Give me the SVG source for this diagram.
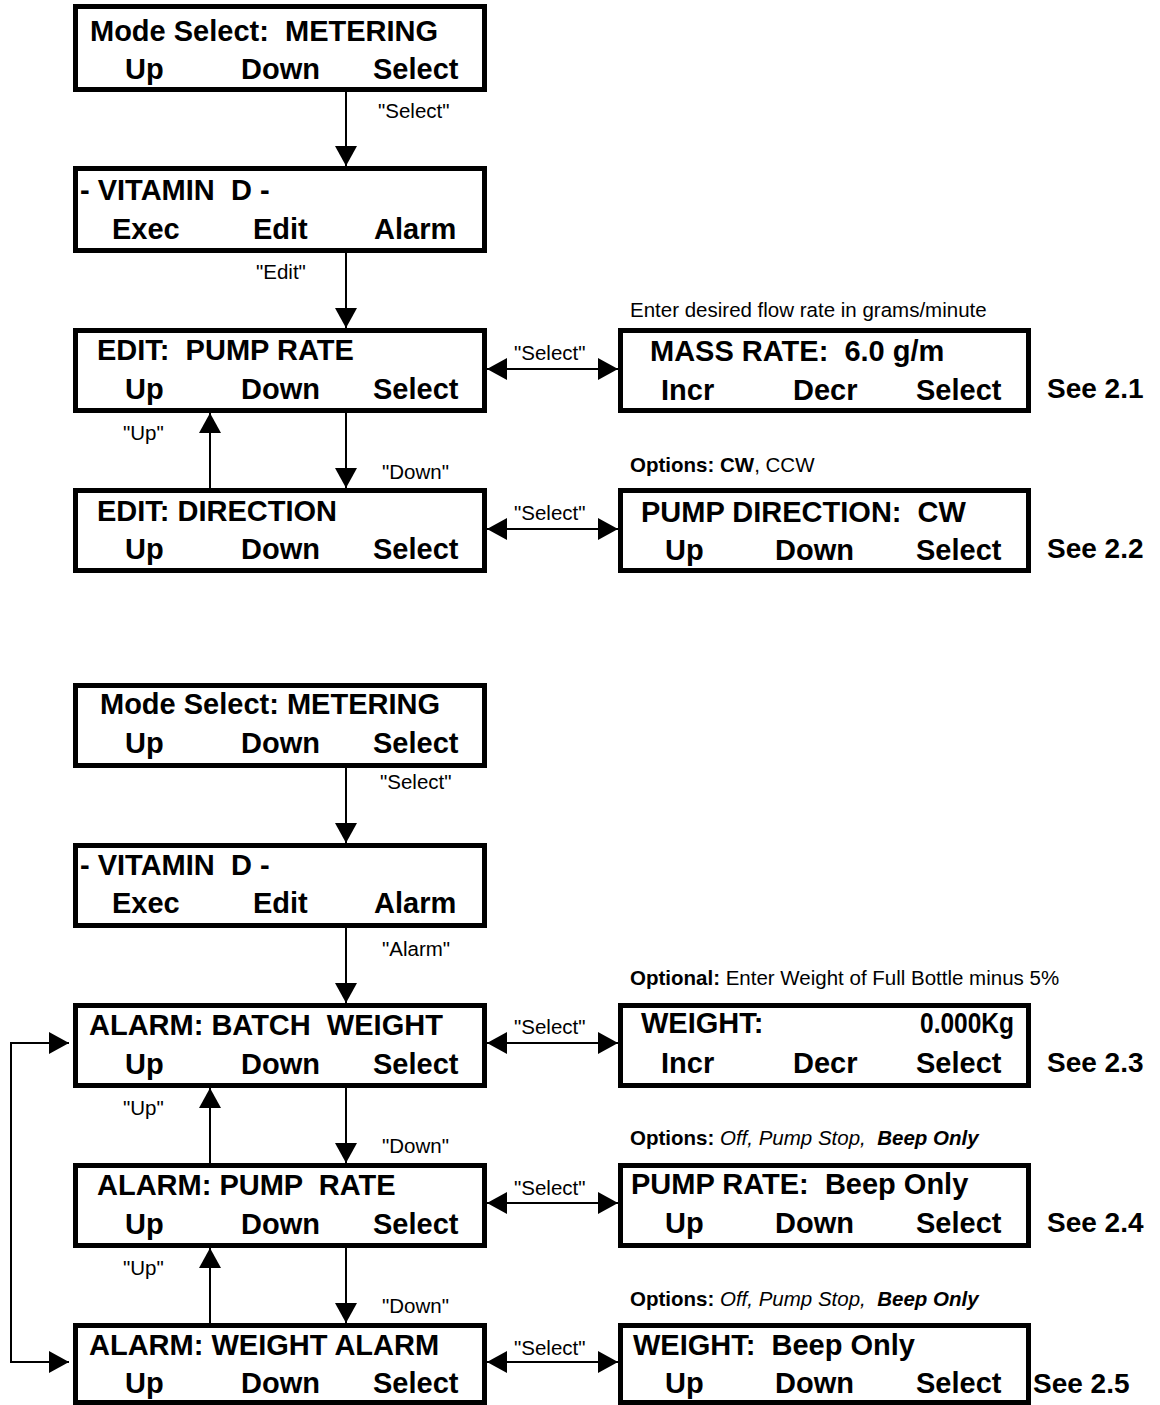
<svg xmlns="http://www.w3.org/2000/svg" width="1160" height="1405" viewBox="0 0 1160 1405" xml:space="preserve">
<style>
text { font-family: "Liberation Sans", Arial, sans-serif; fill: #000; white-space: pre; }
.t { font-size: 29px; font-weight: bold; }
.see { font-size: 28px; font-weight: bold; }
.l { font-size: 20.5px; }
.b { font-weight: bold; }
.i { font-style: italic; }
.box { fill: #fff; stroke: #000; stroke-width: 5; }
.c { fill: none; stroke: #000; stroke-width: 2; }
</style>
<defs>
<marker id="ah" markerUnits="userSpaceOnUse" markerWidth="20" markerHeight="22" refX="20" refY="11" orient="auto-start-reverse" viewBox="0 0 20 22">
<path d="M0,0 L20,11 L0,22 z" fill="#000"/>
</marker>
</defs>
<rect width="1160" height="1405" fill="#fff"/>

<g id="connectors">
<line class="c" x1="346" y1="92" x2="346" y2="166" marker-end="url(#ah)"/>
<line class="c" x1="346" y1="253" x2="346" y2="328" marker-end="url(#ah)"/>
<line class="c" x1="346" y1="413" x2="346" y2="488" marker-end="url(#ah)"/>
<line class="c" x1="210" y1="488" x2="210" y2="413" marker-end="url(#ah)"/>
<line class="c" x1="487" y1="369" x2="618" y2="369" marker-start="url(#ah)" marker-end="url(#ah)"/>
<line class="c" x1="487" y1="529" x2="618" y2="529" marker-start="url(#ah)" marker-end="url(#ah)"/>
<line class="c" x1="346" y1="768" x2="346" y2="843" marker-end="url(#ah)"/>
<line class="c" x1="346" y1="928" x2="346" y2="1003" marker-end="url(#ah)"/>
<line class="c" x1="346" y1="1088" x2="346" y2="1163" marker-end="url(#ah)"/>
<line class="c" x1="346" y1="1248" x2="346" y2="1323" marker-end="url(#ah)"/>
<line class="c" x1="210" y1="1163" x2="210" y2="1088" marker-end="url(#ah)"/>
<line class="c" x1="210" y1="1323" x2="210" y2="1248" marker-end="url(#ah)"/>
<line class="c" x1="487" y1="1043" x2="618" y2="1043" marker-start="url(#ah)" marker-end="url(#ah)"/>
<line class="c" x1="487" y1="1203" x2="618" y2="1203" marker-start="url(#ah)" marker-end="url(#ah)"/>
<line class="c" x1="487" y1="1362" x2="618" y2="1362" marker-start="url(#ah)" marker-end="url(#ah)"/>
<path class="c" d="M69,1043 H11 V1362 H69" marker-start="url(#ah)" marker-end="url(#ah)"/>
<text class="l" x="378" y="118">"Select"</text>
<text class="l" x="256" y="279">"Edit"</text>
<text class="l" x="123" y="440">"Up"</text>
<text class="l" x="382" y="479">"Down"</text>
<text class="l" x="514" y="360">"Select"</text>
<text class="l" x="514" y="520">"Select"</text>
<text class="l" x="380" y="789">"Select"</text>
<text class="l" x="382" y="956">"Alarm"</text>
<text class="l" x="123" y="1115">"Up"</text>
<text class="l" x="382" y="1153">"Down"</text>
<text class="l" x="123" y="1275">"Up"</text>
<text class="l" x="382" y="1313">"Down"</text>
<text class="l" x="514" y="1034">"Select"</text>
<text class="l" x="514" y="1195">"Select"</text>
<text class="l" x="514" y="1355">"Select"</text>
</g>

<g id="n1">
<rect class="box" x="75.5" y="6.5" width="409" height="83"/>
<text class="t" x="90" y="41">Mode Select:  METERING</text>
<text class="t" y="79"><tspan x="125">Up</tspan><tspan x="241">Down</tspan><tspan x="373">Select</tspan></text>
</g>
<g id="n2">
<rect class="box" x="75.5" y="168.5" width="409" height="82"/>
<text class="t" x="80" y="200">- VITAMIN  D -</text>
<text class="t" y="239"><tspan x="112">Exec</tspan><tspan x="253">Edit</tspan><tspan x="374">Alarm</tspan></text>
</g>
<g id="n3">
<rect class="box" x="75.5" y="330.5" width="409" height="80"/>
<text class="t" x="97" y="360">EDIT:  PUMP RATE</text>
<text class="t" y="399"><tspan x="125">Up</tspan><tspan x="241">Down</tspan><tspan x="373">Select</tspan></text>
</g>
<g id="n4">
<rect class="box" x="75.5" y="490.5" width="409" height="80"/>
<text class="t" x="97" y="521">EDIT: DIRECTION</text>
<text class="t" y="559"><tspan x="125">Up</tspan><tspan x="241">Down</tspan><tspan x="373">Select</tspan></text>
</g>
<g id="n3r">
<text class="l" x="630" y="317">Enter desired flow rate in grams/minute</text>
<rect class="box" x="620.5" y="330.5" width="408" height="80"/>
<text class="t" x="650" y="361">MASS RATE:  6.0 g/m</text>
<text class="t" y="400"><tspan x="661">Incr</tspan><tspan x="793">Decr</tspan><tspan x="916">Select</tspan></text>
<text class="see" x="1047" y="398">See 2.1</text>
</g>
<g id="n4r">
<text class="l" x="630" y="472"><tspan class="b">Options: CW</tspan>, CCW</text>
<rect class="box" x="620.5" y="490.5" width="408" height="80"/>
<text class="t" x="641" y="522">PUMP DIRECTION:  CW</text>
<text class="t" y="560"><tspan x="665">Up</tspan><tspan x="775">Down</tspan><tspan x="916">Select</tspan></text>
<text class="see" x="1047" y="558">See 2.2</text>
</g>

<g id="n5">
<rect class="box" x="75.5" y="685.5" width="409" height="80"/>
<text class="t" x="100" y="714">Mode Select: METERING</text>
<text class="t" y="753"><tspan x="125">Up</tspan><tspan x="241">Down</tspan><tspan x="373">Select</tspan></text>
</g>
<g id="n6">
<rect class="box" x="75.5" y="845.5" width="409" height="80"/>
<text class="t" x="80" y="875">- VITAMIN  D -</text>
<text class="t" y="913"><tspan x="112">Exec</tspan><tspan x="253">Edit</tspan><tspan x="374">Alarm</tspan></text>
</g>
<g id="n7">
<rect class="box" x="75.5" y="1005.5" width="409" height="80"/>
<text class="t" x="89" y="1035">ALARM: BATCH  WEIGHT</text>
<text class="t" y="1074"><tspan x="125">Up</tspan><tspan x="241">Down</tspan><tspan x="373">Select</tspan></text>
</g>
<g id="n8">
<rect class="box" x="75.5" y="1165.5" width="409" height="80"/>
<text class="t" x="97" y="1195">ALARM: PUMP  RATE</text>
<text class="t" y="1234"><tspan x="125">Up</tspan><tspan x="241">Down</tspan><tspan x="373">Select</tspan></text>
</g>
<g id="n9">
<rect class="box" x="75.5" y="1325.5" width="409" height="77"/>
<text class="t" x="89" y="1355">ALARM: WEIGHT ALARM</text>
<text class="t" y="1393"><tspan x="125">Up</tspan><tspan x="241">Down</tspan><tspan x="373">Select</tspan></text>
</g>
<g id="n7r">
<text class="l" x="630" y="985"><tspan class="b">Optional:</tspan> Enter Weight of Full Bottle minus 5%</text>
<rect class="box" x="620.5" y="1005.5" width="408" height="80"/>
<text class="t" x="641" y="1033">WEIGHT:</text>
<text class="t" x="920" y="1033" textLength="94" lengthAdjust="spacingAndGlyphs">0.000Kg</text>
<text class="t" y="1073"><tspan x="661">Incr</tspan><tspan x="793">Decr</tspan><tspan x="916">Select</tspan></text>
<text class="see" x="1047" y="1072">See 2.3</text>
</g>
<g id="n8r">
<text class="l" x="630" y="1145"><tspan class="b">Options: </tspan><tspan class="i">Off, Pump Stop,  </tspan><tspan class="b i">Beep Only</tspan></text>
<rect class="box" x="620.5" y="1165.5" width="408" height="80"/>
<text class="t" x="631" y="1194">PUMP RATE:  Beep Only</text>
<text class="t" y="1233"><tspan x="665">Up</tspan><tspan x="775">Down</tspan><tspan x="916">Select</tspan></text>
<text class="see" x="1047" y="1232">See 2.4</text>
</g>
<g id="n9r">
<text class="l" x="630" y="1306"><tspan class="b">Options: </tspan><tspan class="i">Off, Pump Stop,  </tspan><tspan class="b i">Beep Only</tspan></text>
<rect class="box" x="620.5" y="1325.5" width="408" height="77"/>
<text class="t" x="633" y="1355">WEIGHT:  Beep Only</text>
<text class="t" y="1393"><tspan x="665">Up</tspan><tspan x="775">Down</tspan><tspan x="916">Select</tspan></text>
<text class="see" x="1033" y="1393">See 2.5</text>
</g>
</svg>
